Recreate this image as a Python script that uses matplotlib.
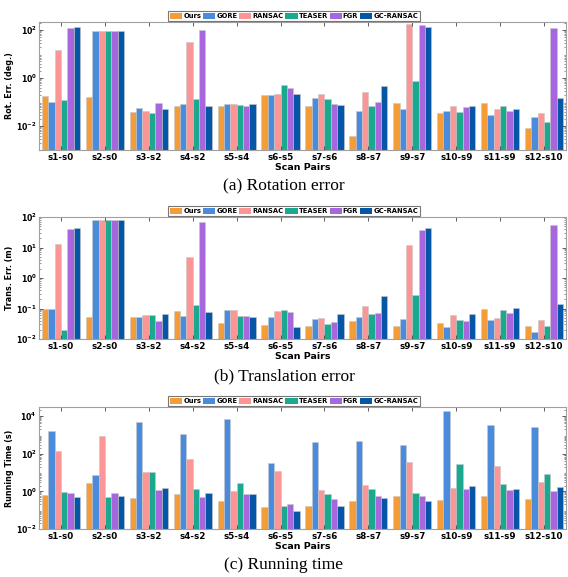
import matplotlib
matplotlib.use("Agg")
import matplotlib.pyplot as plt
import numpy as np
from matplotlib.ticker import FixedLocator, LogLocator, FuncFormatter, NullFormatter
from matplotlib.patches import Patch

pairs = ["s1-s0", "s2-s0", "s3-s2", "s4-s2", "s5-s4", "s6-s5", "s7-s6",
         "s8-s7", "s9-s7", "s10-s9", "s11-s9", "s12-s10"]
methods = ["Ours", "GORE", "RANSAC", "TEASER", "FGR", "GC-RANSAC"]
colors = ["#F39C38", "#4A8BDB", "#FC9696", "#1AA88E", "#A866DE", "#0656A8"]

rot_err = {
    "Ours":      [0.18, 0.16, 0.038, 0.068, 0.070, 0.20, 0.070, 0.004, 0.091, 0.034, 0.091, 0.0083],
    "GORE":      [0.10, 95, 0.056, 0.083, 0.085, 0.20, 0.147, 0.042, 0.051, 0.041, 0.030, 0.024],
    "RANSAC":    [14.7, 95, 0.042, 31, 0.083, 0.21, 0.21, 0.26, 178, 0.070, 0.051, 0.035],
    "TEASER":    [0.12, 95, 0.036, 0.133, 0.078, 0.51, 0.133, 0.070, 0.75, 0.038, 0.070, 0.015],
    "FGR":       [120, 95, 0.091, 100, 0.070, 0.38, 0.085, 0.097, 156, 0.060, 0.042, 120],
    "GC-RANSAC": [130, 95, 0.049, 0.070, 0.085, 0.22, 0.075, 0.46, 130, 0.066, 0.053, 0.15],
}
trans_err = {
    "Ours":      [0.096, 0.053, 0.053, 0.083, 0.0335, 0.029, 0.027, 0.040, 0.027, 0.0335, 0.096, 0.027],
    "GORE":      [0.096, 81, 0.053, 0.057, 0.087, 0.053, 0.044, 0.053, 0.047, 0.025, 0.042, 0.0166],
    "RANSAC":    [13, 81, 0.060, 5.0, 0.087, 0.083, 0.050, 0.12, 12, 0.060, 0.049, 0.042],
    "TEASER":    [0.020, 81, 0.063, 0.13, 0.055, 0.089, 0.030, 0.068, 0.28, 0.043, 0.089, 0.027],
    "FGR":       [41.5, 81, 0.039, 69, 0.055, 0.077, 0.035, 0.069, 37.5, 0.039, 0.071, 53],
    "GC-RANSAC": [42.5, 81, 0.066, 0.079, 0.054, 0.025, 0.068, 0.26, 43.6, 0.066, 0.107, 0.137],
}
run_time = {
    "Ours":      [0.64, 2.7, 0.42, 0.69, 0.32, 0.15, 0.16, 0.30, 0.59, 0.33, 0.59, 0.37],
    "GORE":      [1660, 7.4, 4650, 1150, 7250, 31, 415, 450, 295, 19500, 3330, 2600],
    "RANSAC":    [131, 830, 10.3, 53, 1.0, 11.7, 1.13, 2.2, 38, 1.45, 22.5, 3.15],
    "TEASER":    [0.89, 0.48, 11.2, 1.39, 2.8, 0.16, 0.72, 1.39, 0.78, 29, 2.6, 8.1],
    "FGR":       [0.78, 0.78, 1.13, 0.52, 0.72, 0.20, 0.37, 0.59, 0.56, 1.28, 1.23, 1.08],
    "GC-RANSAC": [0.52, 0.56, 1.45, 0.85, 0.72, 0.093, 0.16, 0.42, 0.29, 1.9, 1.28, 1.63],
}

panels = [
    (rot_err, "Rot. Err. (deg.)", (1e-3, 215), [-2, 0, 2], "(a) Rotation error"),
    (trans_err, "Trans. Err. (m)", (1e-2, 1e2), [-2, -1, 0, 1, 2], "(b) Translation error"),
    (run_time, "Running Time (s)", (1e-2, 3e4), [-2, 0, 2, 4], "(c) Running time"),
]
W, H = 568, 577
ax_px = [(22, 150), (217, 339), (407, 529)]
cap_y = [186, 376, 565]
left_px, right_px = 39, 566

fig = plt.figure(figsize=(W / 100, H / 100), dpi=100)
bf = dict(fontweight="bold", family="DejaVu Sans")

n = len(methods)
bw = 0.145
x = np.arange(1, len(pairs) + 1)

for (data, ylab, ylim, decs, cap), (top, bot), cy in zip(panels, ax_px, cap_y):
    ax = fig.add_axes([left_px / W, 1 - bot / H, (right_px - left_px) / W, (bot - top) / H])
    for i, m in enumerate(methods):
        off = (i - (n - 1) / 2) * bw
        ax.bar(x + off, data[m], width=bw, color=colors[i], edgecolor="#c8c8c8",
               linewidth=0.4, label=m)
    ax.set_yscale("log")
    ax.set_ylim(*ylim)
    ax.set_xlim(0.5, len(pairs) + 0.5)
    ax.set_xticks(x)
    ax.set_xticklabels(pairs, fontsize=6.3, **bf)
    ax.yaxis.set_major_locator(FixedLocator([10.0 ** d for d in decs]))
    ax.yaxis.set_major_formatter(FuncFormatter(lambda v, p: r"$\mathbf{10^{%d}}$" % round(np.log10(v))))
    ax.yaxis.set_minor_locator(LogLocator(base=10, subs=np.arange(2, 10), numticks=50))
    ax.yaxis.set_minor_formatter(NullFormatter())
    ax.tick_params(axis="both", which="both", direction="in", top=True, right=True,
                   color="#444444")
    ax.tick_params(axis="x", which="major", labelsize=6.3, pad=2)
    ax.tick_params(axis="y", which="major", labelsize=5.6, pad=1.5)
    ax.tick_params(axis="both", which="major", length=3, width=0.6)
    ax.tick_params(axis="y", which="minor", length=1.6, width=0.4)
    for s in ax.spines.values():
        s.set_color("#a0a0a0")
        s.set_linewidth(0.8)
    ax.set_xlabel("Scan Pairs", fontsize=6.8, labelpad=1, **bf)
    ax.set_ylabel(ylab, fontsize=5.8, labelpad=1.5, **bf)
    handles = [Patch(facecolor=c, edgecolor="none") for c in colors]
    leg = ax.legend(handles, methods, loc="lower center",
                    bbox_to_anchor=(0.5 - 8.5 / (right_px - left_px), 1.0),
                    ncol=6, frameon=True, fancybox=False, borderpad=0.25,
                    handlelength=1.8, handleheight=1.1, handletextpad=0.15, columnspacing=0.25,
                    borderaxespad=0.15, prop=dict(weight="bold", size=4.9, family="DejaVu Sans"))
    leg.get_frame().set_edgecolor("#555555")
    leg.get_frame().set_linewidth(0.8)
    fig.text(284 / W, 1 - cy / H, cap, ha="center", va="center",
             fontsize=12.5, family="Liberation Serif")

fig.savefig("out.png", dpi=100)
